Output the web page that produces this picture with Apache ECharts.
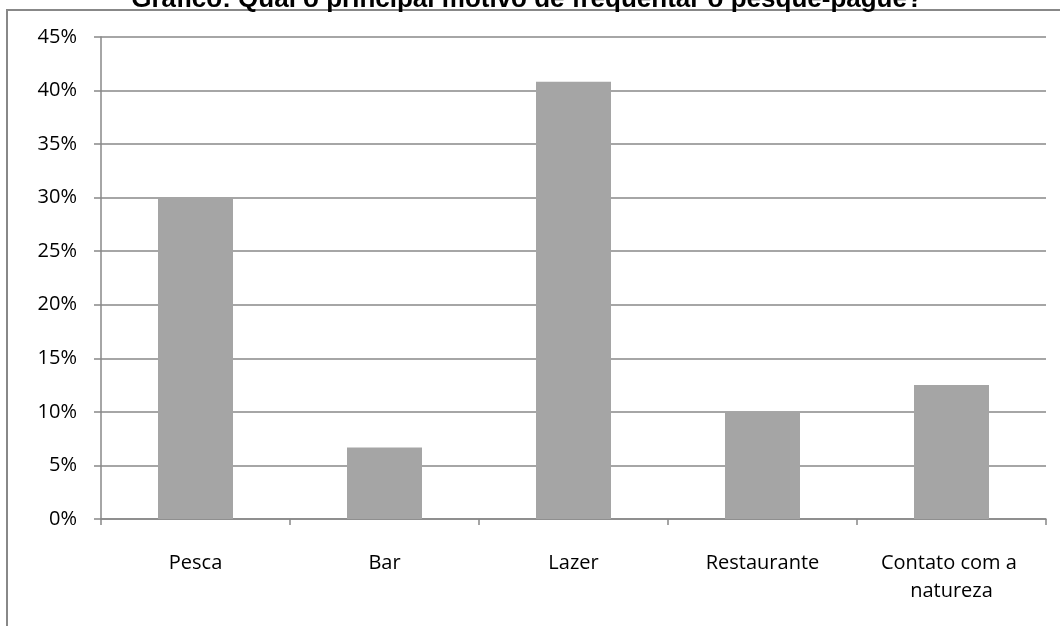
<!DOCTYPE html>
<html>
<head>
<meta charset="utf-8">
<script src="https://cdn.jsdelivr.net/npm/echarts@6/dist/echarts.min.js"></script>
<style>
  html, body { margin: 0; padding: 0; background: #ffffff; }
  #chart { width: 1060px; height: 626px; }
</style>
</head>
<body>
<div id="chart"></div>
<script>
// Motivos para frequentar o pesque-pague (% dos entrevistados)
const titleText = 'Gráfico: Qual o principal motivo de frequentar o pesque-pague?';
const categories = ['Pesca', 'Bar', 'Lazer', 'Restaurante', 'Contato com a natureza'];
const percentages = [30, 6.67, 40.83, 10, 12.5];
const yMin = 0;
const yMax = 45;
const yStep = 5;

const axisGray = '#888888';
const labelFont = '"Open Sans", "Noto Sans", sans-serif';

const chart = echarts.init(document.getElementById('chart'), null, { renderer: 'canvas' });

chart.setOption({
  animation: false,
  backgroundColor: '#ffffff',
  title: {
    text: titleText,
    left: 522,
    textAlign: 'center',
    top: -18,
    textStyle: {
      fontFamily: '"Liberation Sans", Arial, sans-serif',
      fontWeight: 'bold',
      fontSize: 26,
      color: '#000000'
    }
  },
  graphic: [{
    type: 'rect',
    shape: { x: 7, y: 10, width: 1200, height: 800 },
    style: { fill: 'none', stroke: axisGray, lineWidth: 2 },
    silent: true,
    z: -1
  }],
  grid: { left: 101, right: 14, top: 37, bottom: 107, containLabel: false },
  xAxis: {
    type: 'category',
    data: categories,
    boundaryGap: true,
    axisLine: { show: true, lineStyle: { color: axisGray, width: 1.5 } },
    axisTick: { show: true, alignWithLabel: false, length: 6, lineStyle: { color: axisGray, width: 1.5 } },
    axisLabel: {
      margin: 30,
      color: '#000000',
      fontFamily: labelFont,
      fontSize: 20,
      lineHeight: 28,
      width: 165,
      overflow: 'break',
      interval: 0
    }
  },
  yAxis: {
    type: 'value',
    min: yMin,
    max: yMax,
    interval: yStep,
    axisLine: { show: true, lineStyle: { color: axisGray, width: 1.5 } },
    axisTick: { show: true, length: 7, lineStyle: { color: axisGray, width: 1.5 } },
    splitLine: { show: true, lineStyle: { color: axisGray, width: 1.5 } },
    axisLabel: {
      margin: 24,
      color: '#000000',
      fontFamily: labelFont,
      fontSize: 20,
      formatter: '{value}%'
    }
  },
  series: [{
    type: 'bar',
    data: percentages,
    barWidth: 75,
    itemStyle: { color: '#a5a5a5' },
    z: 3
  }]
});
</script>
</body>
</html>
